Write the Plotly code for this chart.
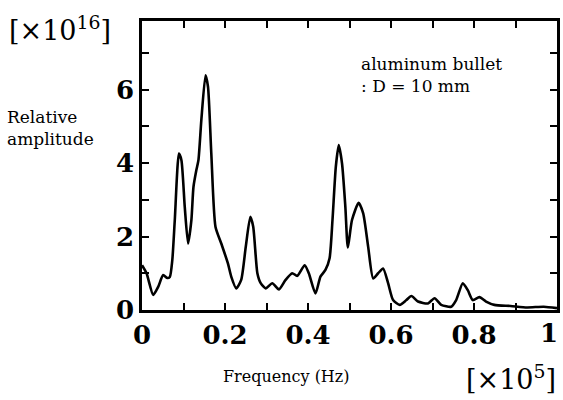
import plotly.graph_objects as go

freq = [0.0, 0.011, 0.027, 0.039, 0.051, 0.061, 0.067, 0.073, 0.079, 0.089, 0.095, 0.103, 0.111,
        0.119, 0.124, 0.131, 0.136, 0.143, 0.153, 0.159, 0.167, 0.177, 0.191, 0.207, 0.215, 0.227,
        0.239, 0.25, 0.261, 0.268, 0.278, 0.286, 0.298, 0.314, 0.330, 0.346, 0.362, 0.374, 0.392,
        0.402, 0.418, 0.430, 0.442, 0.452, 0.459, 0.467, 0.474, 0.482, 0.49, 0.496, 0.506, 0.522,
        0.533, 0.545, 0.557, 0.569, 0.581, 0.593, 0.605, 0.621, 0.637, 0.649, 0.665, 0.689, 0.705,
        0.721, 0.745, 0.757, 0.773, 0.785, 0.797, 0.813, 0.829, 0.849, 0.888, 0.928, 0.968, 1.0]
amp = [1.22, 1.0, 0.41, 0.63, 0.95, 0.87, 0.9, 1.36, 2.45, 4.26, 4.08, 2.81, 1.81,
       2.45, 3.35, 3.81, 4.08, 5.17, 6.39, 6.08, 4.26, 2.27, 1.81, 1.27, 0.91, 0.59,
       0.82, 1.72, 2.54, 2.27, 1.0, 0.73, 0.59, 0.73, 0.56, 0.82, 1.0, 0.93, 1.22,
       1.0, 0.45, 0.91, 1.09, 1.41, 2.45, 3.9, 4.49, 3.99, 2.81, 1.7, 2.45, 2.92,
       2.63, 1.72, 0.86, 1.0, 1.13, 0.73, 0.27, 0.14, 0.27, 0.38, 0.23, 0.18, 0.32,
       0.14, 0.09, 0.27, 0.73, 0.54, 0.27, 0.35, 0.23, 0.14, 0.11, 0.07, 0.09, 0.05]

x_ticks = [0, 0.1, 0.2, 0.3, 0.4, 0.5, 0.6, 0.7, 0.8, 0.9, 1.0]
x_labels = ["0", "", "0.2", "", "0.4", "", "0.6", "", "0.8", "", ""]
last_x_label = "1"
y_ticks = [0, 1, 2, 3, 4, 5, 6, 7]
y_labels = ["0", "", "2", "", "4", "", "6", ""]

serif = "DejaVu Serif"

fig = go.Figure()
fig.add_trace(go.Scatter(x=freq, y=amp, mode="lines",
                         line=dict(color="black", width=2.6, shape="spline", smoothing=0.6),
                         showlegend=False, hoverinfo="skip"))

tickfont = dict(family=serif, size=26, color="black", weight="bold")
axis_common = dict(showgrid=False, zeroline=False, showline=True, linecolor="black",
                   linewidth=2.5, mirror="ticks", ticks="inside", ticklen=7, tickwidth=2,
                   tickcolor="black", tickfont=tickfont)

fig.update_xaxes(range=[0, 1], tickmode="array", tickvals=x_ticks, ticktext=x_labels, **axis_common)
fig.update_yaxes(range=[0, 7.87], tickmode="array", tickvals=y_ticks, ticktext=y_labels, **axis_common)

def px2paper_x(px):
    return (px - 142) / 418.0

def py2paper_y(py):
    return (310 - py) / 289.0

ann = [
    dict(text="[×10<sup>16</sup>]", x=px2paper_x(6), y=py2paper_y(28), xanchor="left", yanchor="middle",
         font=dict(family=serif, size=27, color="black")),
    dict(text="Relative<br>amplitude", x=px2paper_x(4), y=py2paper_y(128), xanchor="left", yanchor="middle",
         align="left", font=dict(family=serif, size=17, color="black")),
    dict(text="aluminum bullet<br>: D = 10 mm", x=px2paper_x(361), y=py2paper_y(75), xanchor="left",
         yanchor="middle", align="left", font=dict(family=serif, size=17, color="black")),
    dict(text="Frequency (Hz)", x=px2paper_x(288), y=py2paper_y(376), xanchor="center", yanchor="middle",
         font=dict(family=serif, size=16, color="black")),
    dict(text="[×10<sup>5</sup>]", x=px2paper_x(561), y=py2paper_y(377), xanchor="right", yanchor="middle",
         font=dict(family=serif, size=27, color="black")),
    dict(text=last_x_label, x=px2paper_x(563), y=py2paper_y(333), xanchor="right", yanchor="middle",
         font=tickfont),
]
for a in ann:
    fig.add_annotation(xref="paper", yref="paper", showarrow=False, **a)

fig.update_layout(width=563, height=400, margin=dict(l=142, r=3, t=21, b=90),
                  plot_bgcolor="white", paper_bgcolor="white")

fig.write_html("out.html")
